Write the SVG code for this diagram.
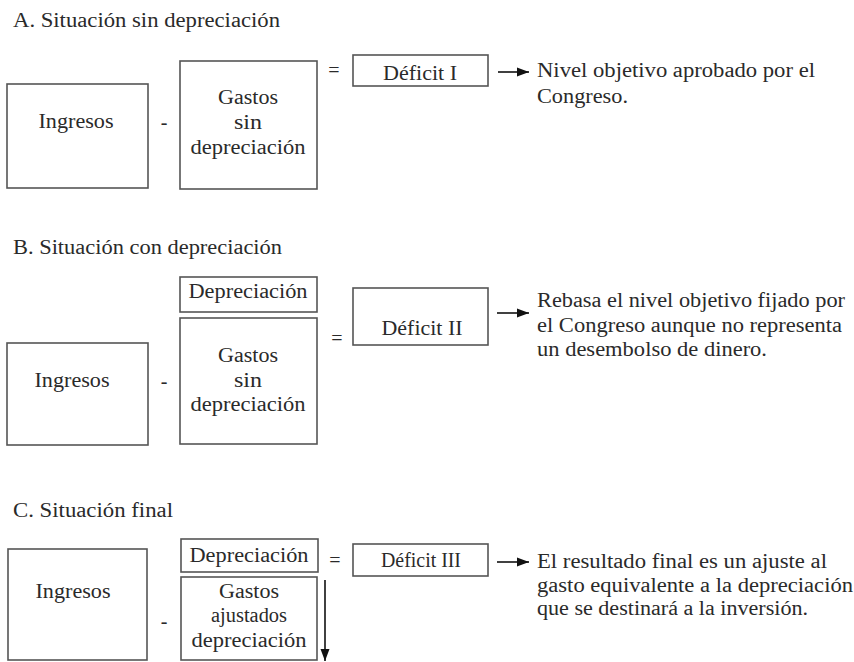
<svg xmlns="http://www.w3.org/2000/svg" width="854" height="662" viewBox="0 0 854 662" font-family="'Liberation Serif', 'Times New Roman', serif">
<defs>
<style>
text{font-family:'Liberation Serif','Times New Roman',serif;font-size:20px;fill:#2a2a2a}
.c{text-anchor:middle}
.box{fill:none;stroke:#555;stroke-width:1.6}
.con{stroke:#111;stroke-width:1.6;fill:none}
</style>
<marker id="ah" viewBox="0 0 12 12" refX="12" refY="6" markerWidth="12" markerHeight="12" markerUnits="userSpaceOnUse" orient="auto">
<path d="M0,1.5 L12,6 L0,10.5 Z" fill="#111"/>
</marker>
</defs>
<rect width="854" height="662" fill="#fff"/>

<!-- Section A -->
<text id="titleA" x="13" y="27" textLength="267" lengthAdjust="spacingAndGlyphs">A. Situación sin depreciación</text>
<g id="A_ingresos"><rect class="box" x="7" y="84" width="141" height="104"/><text class="c" x="76" y="128" textLength="75" lengthAdjust="spacingAndGlyphs">Ingresos</text></g>
<text x="164" y="129" class="c">-</text>
<g id="A_gastos"><rect class="box" x="180" y="61" width="137" height="128"/>
<text class="c" x="248" y="104" textLength="60" lengthAdjust="spacingAndGlyphs">Gastos</text>
<text class="c" x="248" y="129" textLength="28" lengthAdjust="spacingAndGlyphs">sin</text>
<text class="c" x="248" y="154" textLength="115" lengthAdjust="spacingAndGlyphs">depreciación</text></g>
<text x="334" y="77" class="c">=</text>
<g id="A_deficit"><rect class="box" x="353" y="55" width="135" height="31"/><text class="c" x="420" y="80" textLength="74" lengthAdjust="spacingAndGlyphs">Déficit I</text></g>
<g id="A_note"><text x="537" y="77" textLength="278" lengthAdjust="spacingAndGlyphs">Nivel objetivo aprobado por el</text>
<text x="537" y="103" textLength="91" lengthAdjust="spacingAndGlyphs">Congreso.</text></g>

<!-- Section B -->
<text id="titleB" x="13" y="254" textLength="269" lengthAdjust="spacingAndGlyphs">B. Situación con depreciación</text>
<g id="B_ingresos"><rect class="box" x="7" y="343" width="141" height="102"/><text class="c" x="72" y="387" textLength="75" lengthAdjust="spacingAndGlyphs">Ingresos</text></g>
<text x="164" y="388" class="c">-</text>
<g id="B_deprec"><rect class="box" x="180" y="277" width="137" height="35"/><text class="c" x="248" y="298" textLength="119" lengthAdjust="spacingAndGlyphs">Depreciación</text></g>
<g id="B_gastos"><rect class="box" x="180" y="318" width="137" height="126"/>
<text class="c" x="248" y="362" textLength="60" lengthAdjust="spacingAndGlyphs">Gastos</text>
<text class="c" x="248" y="387" textLength="28" lengthAdjust="spacingAndGlyphs">sin</text>
<text class="c" x="248" y="411" textLength="115" lengthAdjust="spacingAndGlyphs">depreciación</text></g>
<text x="337" y="345" class="c">=</text>
<g id="B_deficit"><rect class="box" x="353" y="288" width="135" height="57"/><text class="c" x="422" y="335" textLength="81" lengthAdjust="spacingAndGlyphs">Déficit II</text></g>
<g id="B_note"><text x="537" y="307" textLength="308" lengthAdjust="spacingAndGlyphs">Rebasa el nivel objetivo fijado por</text>
<text x="537" y="332" textLength="305" lengthAdjust="spacingAndGlyphs">el Congreso aunque no representa</text>
<text x="537" y="356" textLength="230" lengthAdjust="spacingAndGlyphs">un desembolso de dinero.</text></g>

<!-- Section C -->
<text id="titleC" x="13" y="517" textLength="160" lengthAdjust="spacingAndGlyphs">C. Situación final</text>
<g id="C_ingresos"><rect class="box" x="8" y="549" width="139" height="111"/><text class="c" x="73" y="598" textLength="75" lengthAdjust="spacingAndGlyphs">Ingresos</text></g>
<text x="164" y="628" class="c">-</text>
<g id="C_deprec"><rect class="box" x="181" y="539" width="137" height="33"/><text class="c" x="249" y="562" textLength="119" lengthAdjust="spacingAndGlyphs">Depreciación</text></g>
<g id="C_gastos"><rect class="box" x="181" y="577" width="136" height="83"/>
<text class="c" x="249" y="598" textLength="60" lengthAdjust="spacingAndGlyphs">Gastos</text>
<text class="c" x="249" y="622" textLength="76" lengthAdjust="spacingAndGlyphs">ajustados</text>
<text class="c" x="249" y="647" textLength="115" lengthAdjust="spacingAndGlyphs">depreciación</text></g>
<text x="335" y="567" class="c">=</text>
<g id="C_deficit"><rect class="box" x="353" y="544" width="135" height="32"/><text class="c" x="421" y="567" textLength="80" lengthAdjust="spacingAndGlyphs">Déficit III</text></g>
<g id="C_note"><text x="537" y="568" textLength="290" lengthAdjust="spacingAndGlyphs">El resultado final es un ajuste al</text>
<text x="537" y="592" textLength="316" lengthAdjust="spacingAndGlyphs">gasto equivalente a la depreciación</text>
<text x="537" y="615" textLength="271" lengthAdjust="spacingAndGlyphs">que se destinará a la inversión.</text></g>

<g id="connectors">
<line class="con" x1="498" y1="72" x2="529" y2="72" marker-end="url(#ah)"/>
<line class="con" x1="497" y1="313" x2="529" y2="313" marker-end="url(#ah)"/>
<line class="con" x1="497" y1="562" x2="529" y2="562" marker-end="url(#ah)"/>
<line class="con" x1="325" y1="580" x2="325" y2="661" marker-end="url(#ah)"/>
</g>
</svg>
